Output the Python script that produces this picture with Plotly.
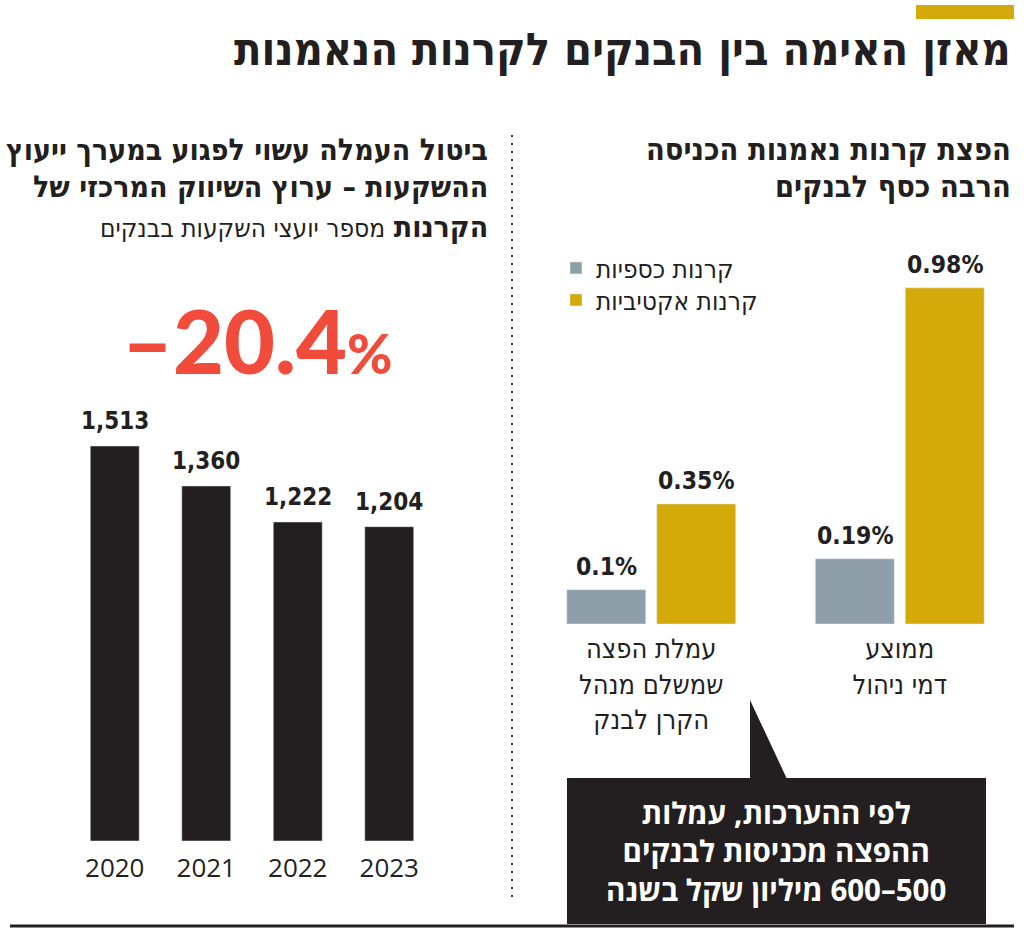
import plotly.graph_objects as go

# ---------------- data ----------------
years = ["2020", "2021", "2022", "2023"]
advisors = [1513, 1360, 1222, 1204]
advisor_labels = ["1,513", "1,360", "1,222", "1,204"]

fee_categories = ["עמלת הפצה<br>שמשלם מנהל<br>הקרן לבנק", "ממוצע<br>דמי ניהול"]
series_names = ["קרנות כספיות", "קרנות אקטיביות"]
money_market = [0.10, 0.19]
active_funds = [0.35, 0.98]
money_market_labels = ["0.1%", "0.19%"]
active_labels = ["0.35%", "0.98%"]

title_text = "מאזן האימה בין הבנקים לקרנות הנאמנות"
left_title = ["ביטול העמלה עשוי לפגוע במערך ייעוץ", "ההשקעות – ערוץ השיווק המרכזי של"]
left_title_bold = "הקרנות"
left_subtitle = "מספר יועצי השקעות בבנקים"
right_title = ["הפצת קרנות נאמנות הכניסה", "הרבה כסף לבנקים"]
change_text = "–20.4"
callout_lines = ["לפי ההערכות, עמלות", "ההפצה מכניסות לבנקים", "500–600 מיליון שקל בשנה"]

# ---------------- style ----------------
W, H = 1024, 930
BLACK = "#231F20"
GRAY = "#8E9FAA"
GOLD = "#D4A90A"
RED = "#F04B3B"
HEB = "DejaVu Sans Condensed, sans-serif"
OPEN = "Open Sans, DejaVu Sans, sans-serif"
RLM = "\u200f"  # right-to-left mark: lays each Hebrew line out right-to-left


def px(x):
    return x / W


def py(y):
    return 1 - y / H


fig = go.Figure()

# left chart
fig.add_trace(go.Bar(
    x=years, y=advisors, marker_color=BLACK, width=0.535,
    xaxis="x", yaxis="y", showlegend=False, hoverinfo="skip",
))

# right chart
fig.add_trace(go.Bar(
    x=fee_categories, y=money_market, name=series_names[0], marker_color=GRAY,
    xaxis="x2", yaxis="y2", hoverinfo="skip", legend="legend",
))
fig.add_trace(go.Bar(
    x=fee_categories, y=active_funds, name=series_names[1], marker_color=GOLD,
    xaxis="x2", yaxis="y2", hoverinfo="skip", legend="legend2",
))

annotations = []
# value labels on left bars
for i, (v, lab) in enumerate(zip(advisors, advisor_labels)):
    annotations.append(dict(x=i, y=v, xref="x", yref="y", text=lab, showarrow=False,
                            yanchor="bottom", yshift=9,
                            font=dict(family=HEB, size=24, color=BLACK, weight="bold")))
# value labels on right bars
for i in range(len(fee_categories)):
    annotations.append(dict(x=i, y=money_market[i], xref="x2", yref="y2",
                            text=money_market_labels[i], showarrow=False,
                            yanchor="bottom", yshift=7, xshift=-45,
                            font=dict(family=HEB, size=24.5, color=BLACK, weight="bold")))
    annotations.append(dict(x=i, y=active_funds[i], xref="x2", yref="y2",
                            text=active_labels[i], showarrow=False,
                            yanchor="bottom", yshift=7, xshift=45,
                            font=dict(family=HEB, size=24.5, color=BLACK, weight="bold")))

# main title
annotations.append(dict(x=px(1013), y=py(50), xref="paper", yref="paper", text=title_text,
                        showarrow=False, xanchor="right", yanchor="middle",
                        font=dict(family=HEB, size=44.8, color=BLACK, weight="bold")))
# left titles
for i, line in enumerate(left_title):
    annotations.append(dict(x=px(490), y=py(150 + 37 * i), xref="paper", yref="paper", text=line,
                            showarrow=False, xanchor="right", yanchor="middle",
                            font=dict(family=HEB, size=30, color=BLACK, weight="bold")))
annotations.append(dict(x=px(490), y=py(226), xref="paper", yref="paper",
                        text="<b>" + left_title_bold + "</b> <span style='font-size:26px;font-weight:normal'>" + left_subtitle + "</span>",
                        showarrow=False, xanchor="right", yanchor="middle",
                        font=dict(family=HEB, size=30, color=BLACK)))
# right titles
for i, line in enumerate(right_title):
    annotations.append(dict(x=px(1013), y=py(150 + 37 * i), xref="paper", yref="paper", text=line,
                            showarrow=False, xanchor="right", yanchor="middle",
                            font=dict(family=HEB, size=30.5, color=BLACK, weight="bold")))
# big change number
annotations.append(dict(x=px(257), y=py(340), xref="paper", yref="paper",
                        text=change_text + "<span style='font-size:55px'>%</span>",
                        showarrow=False, xanchor="center", yanchor="middle",
                        font=dict(family="Lato, Open Sans, sans-serif", size=88, color=RED, weight=900)))
# callout text
annotations.append(dict(x=px(776), y=py(851), xref="paper", yref="paper",
                        text="<br>".join(RLM + line for line in callout_lines),
                        showarrow=False, xanchor="center", yanchor="middle", align="center",
                        font=dict(family=OPEN, size=29.5, color="white", weight="bold")))

shapes = [
    # gold accent bar
    dict(type="rect", xref="paper", yref="paper", x0=px(916), x1=px(1014), y0=py(19), y1=py(5),
         fillcolor=GOLD, line_width=0),
    # dotted separator
    dict(type="line", xref="paper", yref="paper", x0=px(512), x1=px(512), y0=py(135), y1=py(900),
         line=dict(color="#333333", width=2, dash="2px,6px")),
    # bottom rule
    dict(type="line", xref="paper", yref="paper", x0=px(10), x1=px(1014), y0=py(926), y1=py(926),
         line=dict(color=BLACK, width=3)),
    # callout box
    dict(type="rect", xref="paper", yref="paper", x0=px(567), x1=px(986), y0=py(924), y1=py(778),
         fillcolor=BLACK, line_width=0),
    dict(type="path", xref="paper", yref="paper",
         path=f"M {px(750)} {py(700)} L {px(750)} {py(779)} L {px(787)} {py(779)} Z",
         fillcolor=BLACK, line_width=0),
]

legend_style = dict(xanchor="left", yanchor="middle", bgcolor="rgba(0,0,0,0)",
                    font=dict(family=HEB, size=26, color=BLACK))

fig.update_layout(
    width=W, height=H, margin=dict(l=0, r=0, t=0, b=0, autoexpand=False),
    paper_bgcolor="white", plot_bgcolor="white",
    barmode="group", bargap=0.276, bargroupgap=0.122,
    xaxis=dict(domain=[px(69), px(435)], type="category", range=[-0.5, 3.5],
               showgrid=False, zeroline=False, automargin=False,
               showline=False, ticks="outside", ticklen=4, tickcolor="rgba(0,0,0,0)",
               tickfont=dict(family=OPEN, size=26, color=BLACK), fixedrange=True),
    yaxis=dict(domain=[py(841), py(380)], range=[0, (841 - 380) / (395 / 1513)], visible=False,
               fixedrange=True),
    xaxis2=dict(domain=[px(527), px(1024)], type="category", range=[-0.5, 1.5],
                showgrid=False, zeroline=False, automargin=False,
                showline=False, ticks="outside", ticklen=1, tickcolor="rgba(0,0,0,0)",
                tickfont=dict(family=HEB, size=27, color=BLACK), anchor="y2", fixedrange=True),
    yaxis2=dict(domain=[py(624), py(240)], range=[0, (624 - 240) / 343.0], visible=False,
                anchor="x2", fixedrange=True),
    legend=dict(x=px(556), y=py(268), **legend_style),
    legend2=dict(x=px(556), y=py(300), **legend_style),
    annotations=annotations, shapes=shapes,
)

fig.write_html("out.html")
